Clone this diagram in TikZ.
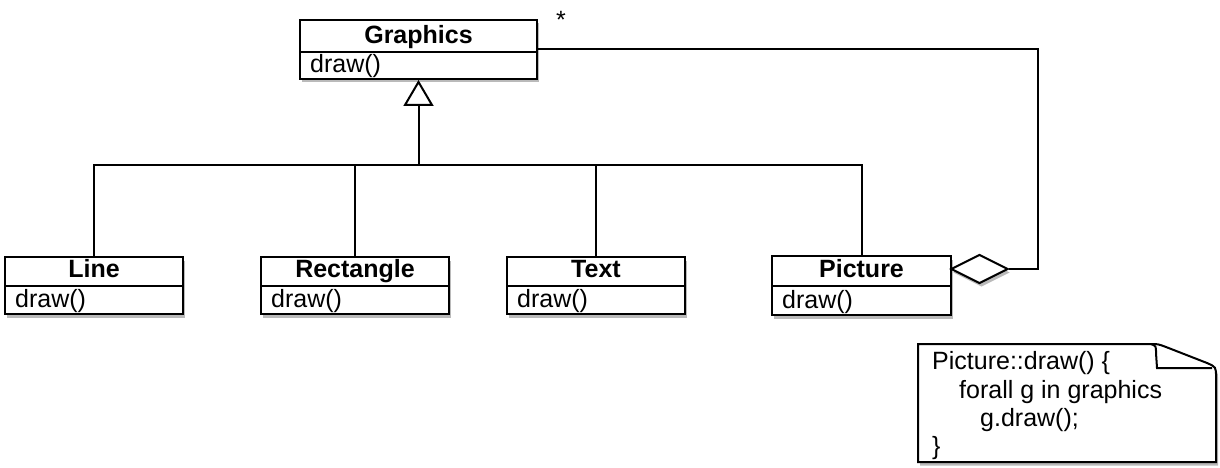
\documentclass[tikz,border=0pt]{standalone}
\usepackage{fontspec}
\setmainfont{Liberation Sans}
\usetikzlibrary{shapes.geometric,arrows.meta,shadows}
\newcommand{\fsz}{\fontsize{25}{30}\selectfont}
\tikzset{
  lw/.style={line width=2pt},
  shad/.style={drop shadow={shadow xshift=2pt,shadow yshift=-3.5pt,opacity=0.45,fill=black!60}},
  clsbox/.style={lw,draw=black,fill=white,shad,inner sep=0pt,rectangle},
  clsname/.style={font=\bfseries\fsz,inner sep=0pt,anchor=base},
  clsop/.style={font=\fsz,inner sep=0pt,anchor=base west},
  notetext/.style={font=\fsz,inner sep=0pt,anchor=base west},
}
% name, label, x1, x2, ytop, ydiv, ybot
\newcommand{\umlcls}[7]{%
  \node[clsbox,minimum width={#4-#3},minimum height={#7-#5}] (#1) at ({(#3+#4)/2},{(#5+#7)/2}) {};
  \draw[lw] (#1.west |- 0,#6) -- (#1.east |- 0,#6);
  \node[clsname] (#1-name) at ({(#3+#4)/2},{#6-8.5}) {#2};
  \node[clsop] (#1-op) at ({#3+10},{#7-6.5}) {draw()};
}
\begin{document}
\begin{tikzpicture}[x=1pt,y=-1pt]
\useasboundingbox (0,0) rectangle (1220,468);
\umlcls{G}{Graphics}{300}{537}{20}{52}{79}
\umlcls{L}{Line}{5}{183}{257}{286}{314}
\umlcls{R}{Rectangle}{261}{449}{257}{286}{314}
\umlcls{T}{Text}{507}{685}{257}{286}{314}
\umlcls{P}{Picture}{772}{951}{256}{286}{315}
% generalization
\coordinate (J) at (418.5,165);
\draw[lw] (L.north) |- (J) -| (P.north);
\draw[lw] (R.north) -- (R.north |- J);
\draw[lw] (T.north) -- (T.north |- J);
\draw[lw,-{Triangle[open,length=26pt,width=30pt,line width=2pt]}] (J) -- (G.south);
% aggregation
\node[diamond,lw,draw=black,fill=white,shad,inner sep=0pt,minimum width=57pt,minimum height=29pt,aspect=2] (D) at (979.5,269) {};
\coordinate (C) at (1038,49);
\draw[lw] (D.east) -| (C) -- (G.east |- C);
\node[font=\fsz,inner sep=0pt,anchor=base] (star) at (561,28.5) {*};
% note
\path[lw,draw=black,fill=white,shad] (918,344) -- (1150,344) .. controls (1158,344) .. (1166,347) -- (1207,363) .. controls (1216,367) .. (1216,377) -- (1216,462) -- (918,462) -- cycle;
\draw[lw] (1151,344) .. controls (1156,346) .. (1156,353) -- (1157,368) -- (1212,368);
\node[notetext] (n1) at (932,369) {Picture::draw() \{};
\node[notetext] (n2) at (959,398) {forall g in graphics};
\node[notetext] (n3) at (980,426) {g.draw();};
\node[notetext] (n4) at (932,454) {\}};
\end{tikzpicture}
\end{document}
